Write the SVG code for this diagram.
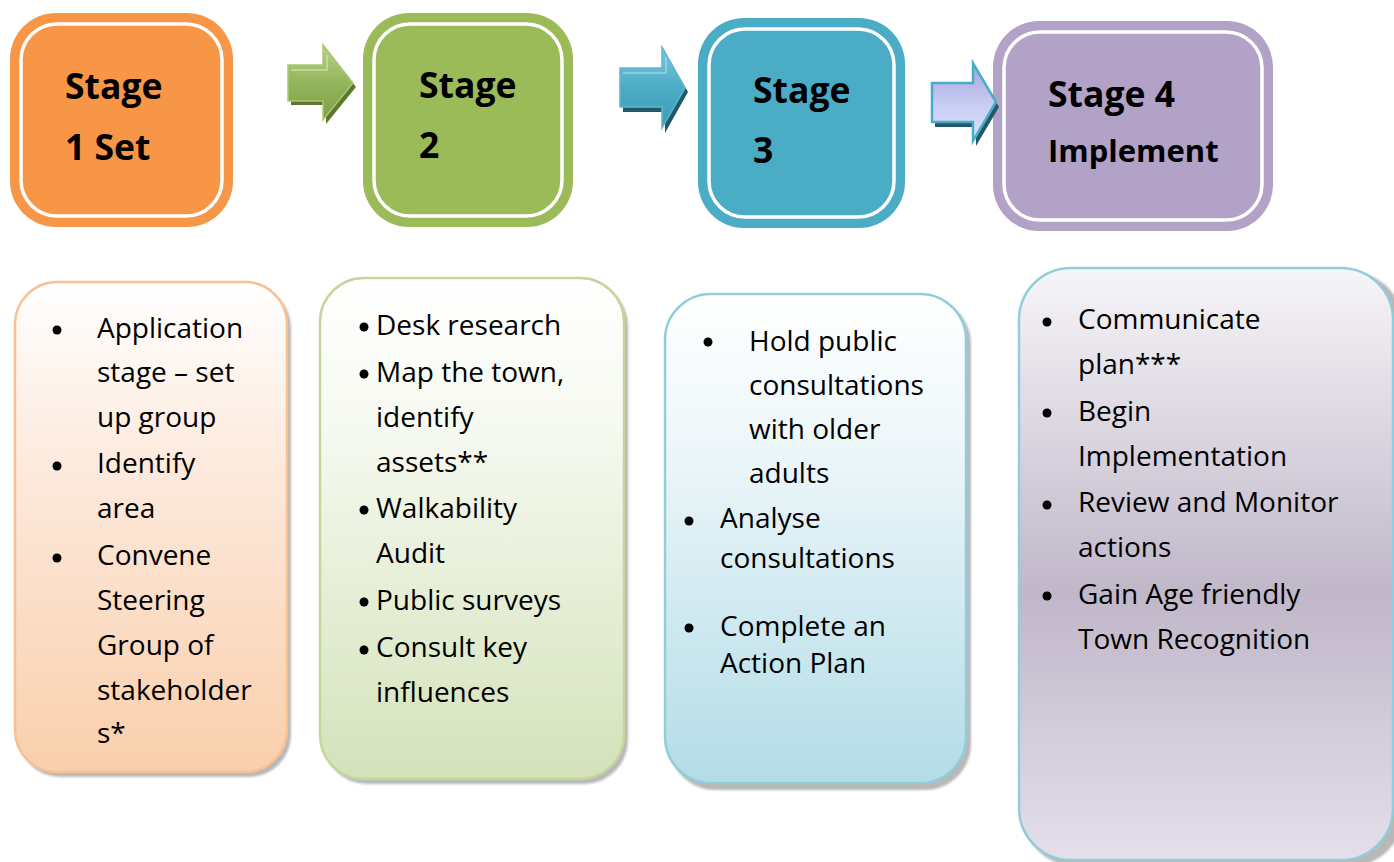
<svg xmlns="http://www.w3.org/2000/svg" width="1394" height="862" viewBox="0 0 1394 862">
  <defs>
    <linearGradient id="gOrange" x1="0" y1="0" x2="0" y2="1">
      <stop offset="0" stop-color="#FFFFFF"/>
      <stop offset="0.35" stop-color="#FDEBDF"/>
      <stop offset="1" stop-color="#F9CFAC"/>
    </linearGradient>
    <linearGradient id="gGreen" x1="0" y1="0" x2="0" y2="1">
      <stop offset="0" stop-color="#FFFFFF"/>
      <stop offset="0.3" stop-color="#F6F9F0"/>
      <stop offset="1" stop-color="#D4E2BA"/>
    </linearGradient>
    <linearGradient id="gBlue" x1="0" y1="0" x2="0" y2="1">
      <stop offset="0" stop-color="#FFFFFF"/>
      <stop offset="0.3" stop-color="#EEF7FA"/>
      <stop offset="1" stop-color="#B3DCE7"/>
    </linearGradient>
    <linearGradient id="gPurple" x1="0" y1="0" x2="0" y2="1">
      <stop offset="0" stop-color="#F6F5F8"/>
      <stop offset="0.55" stop-color="#C0B7C9"/>
      <stop offset="1" stop-color="#E4DFEB"/>
    </linearGradient>
    <linearGradient id="aGreen" x1="0" y1="0" x2="0" y2="1">
      <stop offset="0" stop-color="#B9D18A"/>
      <stop offset="0.5" stop-color="#93B55C"/>
      <stop offset="1" stop-color="#7E9F46"/>
    </linearGradient>
    <linearGradient id="aTeal" x1="0" y1="0" x2="0" y2="1">
      <stop offset="0" stop-color="#7FC8DB"/>
      <stop offset="0.5" stop-color="#4BACC6"/>
      <stop offset="1" stop-color="#3F9DB6"/>
    </linearGradient>
    <linearGradient id="aLav" x1="0" y1="0" x2="0" y2="1">
      <stop offset="0" stop-color="#A7A3DD"/>
      <stop offset="0.6" stop-color="#CBD2F6"/>
      <stop offset="1" stop-color="#D9E1FC"/>
    </linearGradient>
    <filter id="soft" x="-5%" y="-5%" width="110%" height="110%">
      <feGaussianBlur stdDeviation="1.2"/>
    </filter>
  </defs>
  <style>
    .stageTitle { font-family: "Open Sans", "Liberation Sans", sans-serif; font-weight: 700; font-size: 35.5px; fill: #000; }
    .body { font-family: "Open Sans", "Liberation Sans", sans-serif; font-size: 28px; fill: #000; }
    .inner { fill: none; stroke: #FFFFFF; stroke-width: 3.5; }
    .shadow { fill: #7F7F7F; opacity: 0.55; filter: url(#soft); }
    .dot { fill: #000; }
  </style>

  <rect width="1394" height="862" fill="#FFFFFF"/>

  <!-- Stage headers -->
  <g id="stage1">
    <rect x="10" y="13" width="223" height="214" rx="46" fill="#F79646"/>
    <rect x="21" y="24" width="201" height="192" rx="36" class="inner"/>
    <text class="stageTitle" x="65" y="99">Stage</text>
    <text class="stageTitle" x="65" y="160">1 Set</text>
  </g>
  <g id="stage2">
    <rect x="363" y="13" width="210" height="214" rx="46" fill="#9BBB59"/>
    <rect x="374" y="24" width="188" height="192" rx="36" class="inner"/>
    <text class="stageTitle" x="419" y="98">Stage</text>
    <text class="stageTitle" x="419" y="158">2</text>
  </g>
  <g id="stage3">
    <rect x="698" y="18" width="207" height="210" rx="46" fill="#4BACC6"/>
    <rect x="709" y="29" width="185" height="188" rx="36" class="inner"/>
    <text class="stageTitle" x="753" y="103">Stage</text>
    <text class="stageTitle" x="753" y="163">3</text>
  </g>
  <g id="stage4">
    <rect x="993" y="21" width="280" height="210" rx="46" fill="#B2A2C7"/>
    <rect x="1004" y="32" width="258" height="188" rx="36" class="inner"/>
    <text class="stageTitle" x="1048" y="107">Stage 4</text>
    <text class="stageTitle" x="1048" y="162" style="font-size:31px">Implement</text>
  </g>

  <!-- Connectors: block arrows between the stage headers -->
  <g id="connectors">
    <g id="arrow1">
      <polygon points="291,69 326,69 326,49 356,87 326,124 326,105 291,105" fill="#5E7630"/>
      <polygon points="288,65 323,65 323,45 353,83 323,120 323,101 288,101" fill="url(#aGreen)" stroke="#A9C873" stroke-width="1.5" stroke-linejoin="miter"/>
      <polyline points="291,70 327,70 327,55" fill="none" stroke="#D3E4B5" stroke-width="1.5" opacity="0.8"/>
    </g>
    <g id="arrow2">
      <polygon points="623,73 665,73 665,52 688,92 665,133 665,112 623,112" fill="#215968"/>
      <polygon points="620,68 662,68 662,47 685,88 662,128 662,107 620,107" fill="url(#aTeal)" stroke="#5DB7CF" stroke-width="1.5"/>
      <polyline points="623,73 666,73 666,57" fill="none" stroke="#A6DAE7" stroke-width="1.5" opacity="0.8"/>
    </g>
    <g id="arrow3">
      <polygon points="935,88 976,88 976,68 999,107 976,146 976,127 935,127" fill="#215968"/>
      <polygon points="932,83 973,83 973,63 996,102 973,141 973,122 932,122" fill="url(#aLav)" stroke="#4BACC6" stroke-width="2.5" stroke-linejoin="miter"/>
    </g>
  </g>

  <!-- Detail panels -->
  <g id="detail1">
    <rect x="18" y="286" width="273" height="491" rx="42" class="shadow"/>
    <rect x="15" y="282" width="272" height="490" rx="42" fill="url(#gOrange)" stroke="#FAC08F" stroke-width="2.5"/>
    <circle class="dot" cx="57" cy="330" r="4.5"/>
    <circle class="dot" cx="57" cy="466" r="4.5"/>
    <circle class="dot" cx="57" cy="558" r="4.5"/>
    <text class="body" x="97" y="338">Application</text>
    <text class="body" x="97" y="382">stage – set</text>
    <text class="body" x="97" y="427">up group</text>
    <text class="body" x="97" y="473">Identify</text>
    <text class="body" x="97" y="518">area</text>
    <text class="body" x="97" y="565">Convene</text>
    <text class="body" x="97" y="610">Steering</text>
    <text class="body" x="97" y="655">Group of</text>
    <text class="body" x="97" y="700">stakeholder</text>
    <text class="body" x="97" y="743">s*</text>
  </g>

  <g id="detail2">
    <rect x="323" y="282" width="305" height="502" rx="44" class="shadow"/>
    <rect x="320" y="278" width="304" height="501" rx="44" fill="url(#gGreen)" stroke="#C3D69B" stroke-width="2.5"/>
    <circle class="dot" cx="364" cy="327" r="4.5"/>
    <circle class="dot" cx="364" cy="374" r="4.5"/>
    <circle class="dot" cx="364" cy="510" r="4.5"/>
    <circle class="dot" cx="364" cy="602" r="4.5"/>
    <circle class="dot" cx="364" cy="650" r="4.5"/>
    <text class="body" x="376" y="335">Desk research</text>
    <text class="body" x="376" y="382">Map the town,</text>
    <text class="body" x="376" y="427">identify</text>
    <text class="body" x="376" y="472">assets**</text>
    <text class="body" x="376" y="518">Walkability</text>
    <text class="body" x="376" y="563">Audit</text>
    <text class="body" x="376" y="610">Public surveys</text>
    <text class="body" x="376" y="657">Consult key</text>
    <text class="body" x="376" y="702">influences</text>
  </g>

  <g id="detail3">
    <rect x="669" y="298" width="302" height="492" rx="46" class="shadow"/>
    <rect x="665" y="294" width="301" height="489" rx="46" fill="url(#gBlue)" stroke="#92CDDC" stroke-width="2.5"/>
    <circle class="dot" cx="708" cy="342" r="4.5"/>
    <circle class="dot" cx="689" cy="521" r="4.5"/>
    <circle class="dot" cx="689" cy="628" r="4.5"/>
    <text class="body" x="749" y="351">Hold public</text>
    <text class="body" x="749" y="395">consultations</text>
    <text class="body" x="749" y="439">with older</text>
    <text class="body" x="749" y="483">adults</text>
    <text class="body" x="720" y="528">Analyse</text>
    <text class="body" x="720" y="568">consultations</text>
    <text class="body" x="720" y="636">Complete an</text>
    <text class="body" x="720" y="673">Action Plan</text>
  </g>

  <g id="detail4">
    <rect x="1023" y="272" width="380" height="594" rx="52" class="shadow"/>
    <rect x="1019" y="268" width="374" height="592" rx="52" fill="url(#gPurple)" stroke="#92CDDC" stroke-width="2.5"/>
    <circle class="dot" cx="1047" cy="322" r="4.5"/>
    <circle class="dot" cx="1047" cy="413" r="4.5"/>
    <circle class="dot" cx="1047" cy="505" r="4.5"/>
    <circle class="dot" cx="1047" cy="596" r="4.5"/>
    <text class="body" x="1078" y="329">Communicate</text>
    <text class="body" x="1078" y="374">plan***</text>
    <text class="body" x="1078" y="421">Begin</text>
    <text class="body" x="1078" y="466">Implementation</text>
    <text class="body" x="1078" y="512">Review and Monitor</text>
    <text class="body" x="1078" y="557">actions</text>
    <text class="body" x="1078" y="604">Gain Age friendly</text>
    <text class="body" x="1078" y="649">Town Recognition</text>
  </g>
</svg>
